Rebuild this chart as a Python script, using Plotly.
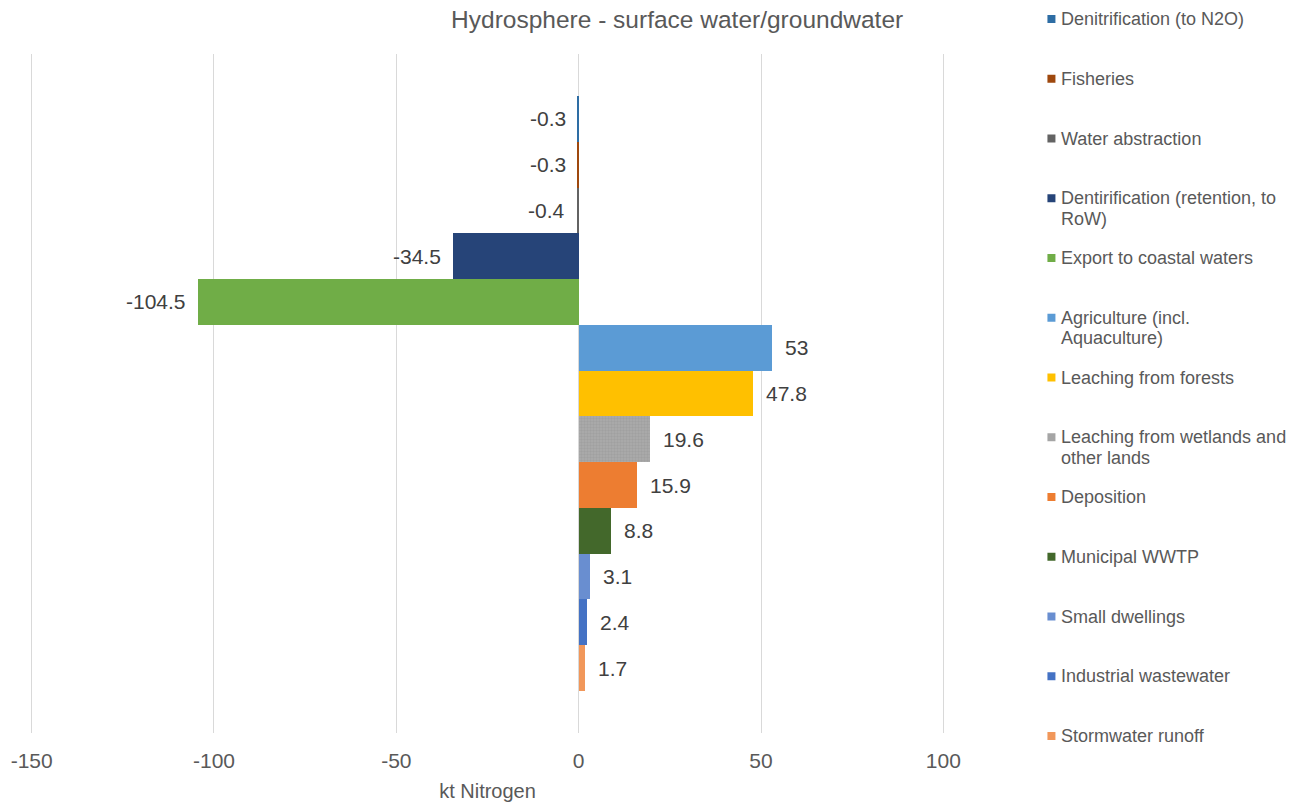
import plotly.graph_objects as go

# Nitrogen flows of the hydrosphere (kt N); negative = outflow, positive = inflow
series_names = [
    "Denitrification (to N2O)",
    "Fisheries",
    "Water abstraction",
    "Dentirification (retention, to<br>RoW)",
    "Export to coastal waters",
    "Agriculture (incl.<br>Aquaculture)",
    "Leaching from forests",
    "Leaching from wetlands and<br>other lands",
    "Deposition",
    "Municipal WWTP",
    "Small dwellings",
    "Industrial wastewater",
    "Stormwater runoff",
]
values = [-0.3, -0.3, -0.4, -34.5, -104.5, 53, 47.8, 19.6, 15.9, 8.8, 3.1, 2.4, 1.7]
colors = [
    "#2E6DA4", "#9E480E", "#636363", "#264478", "#70AD47", "#5B9BD5", "#FFC000",
    "#A5A5A5", "#ED7D31", "#43682B", "#698ED0", "#4472C4", "#F1975A",
]
x_ticks = [-150, -100, -50, 0, 50, 100]
x_range = [-151, 101]

FONT = "Liberation Sans, Arial, sans-serif"
TXT = "#595959"
LBL = "#404040"

W, H = 1305, 802
# pixel positions of the -150 and 100 gridlines; the plot area extends
# a little past them so the outer gridlines stay visible
G0, G1 = 32, 943
ppu = (G1 - G0) / (x_ticks[-1] - x_ticks[0])
L = G0 - (x_ticks[0] - x_range[0]) * ppu
R = G1 + (x_range[1] - x_ticks[-1]) * ppu
T, B = 54, 733


def px_x(px):
    return (px - L) / (R - L)


def px_y(py):
    return 1 - (py - T) / (B - T)


fig = go.Figure()
for i, (name, v, c) in enumerate(zip(series_names, values, colors)):
    marker = dict(color=c, line=dict(width=0))
    if i == 7:
        marker["pattern"] = dict(shape=".", fgcolor="#939393", bgcolor="#ACACAC",
                                 size=3, solidity=0.5)
    fig.add_trace(go.Bar(
        x=[v], y=[i], orientation="h", width=1, marker=marker,
        name=name.replace("<br>", " "), showlegend=False, hoverinfo="x+name",
    ))
    lbl = f"{v:g}"
    fig.add_annotation(
        x=v, y=i, xref="x", yref="y", text=lbl, showarrow=False,
        xanchor="right" if v < 0 else "left", xshift=-10 if v < 0 else 11,
        font=dict(family=FONT, size=21, color=LBL),
    )

# legend drawn at evenly spaced slots down the right side
leg_top, leg_step = 19, 59.75
for i, (name, c) in enumerate(zip(series_names, colors)):
    yc = leg_top + leg_step * i
    fig.add_shape(
        type="rect", xref="paper", yref="paper",
        x0=px_x(1047), x1=px_x(1055), y0=px_y(yc - 4), y1=px_y(yc + 4),
        fillcolor=c, line=dict(width=0),
    )
    for j, line in enumerate(name.split("<br>")):
        fig.add_annotation(
            x=px_x(1059), y=px_y(yc + 20.5 * j), xref="paper", yref="paper",
            text=line, showarrow=False, xanchor="left", yanchor="middle",
            font=dict(family=FONT, size=18, color=TXT),
        )

fig.update_layout(
    width=W, height=H,
    margin=dict(l=L, r=W - R, t=T, b=H - B, autoexpand=False),
    paper_bgcolor="white", plot_bgcolor="white",
    barmode="overlay", bargap=0,
    title=dict(
        text="Hydrosphere - surface water/groundwater",
        x=px_x(677), xref="paper", xanchor="center",
        y=1 - 19 / H, yref="container", yanchor="middle",
        font=dict(family=FONT, size=24.5, color=TXT),
        automargin=False,
    ),
    xaxis=dict(
        range=x_range, tickvals=x_ticks, ticktext=[str(t) for t in x_ticks],
        showgrid=True, gridcolor="#D9D9D9", gridwidth=1,
        zeroline=True, zerolinecolor="#D9D9D9", zerolinewidth=1,
        showline=False, ticks="", ticklabelstandoff=13, automargin=False,
        tickfont=dict(family=FONT, size=21, color=TXT),
        title=dict(text="kt Nitrogen", standoff=14,
                   font=dict(family=FONT, size=20, color=TXT)),
    ),
    yaxis=dict(
        range=[12 + 1.42, -1.42], showgrid=False, zeroline=False, automargin=False,
        showticklabels=False, ticks="", showline=False,
    ),
    font=dict(family=FONT, color=TXT),
)

fig.write_html("out.html")
